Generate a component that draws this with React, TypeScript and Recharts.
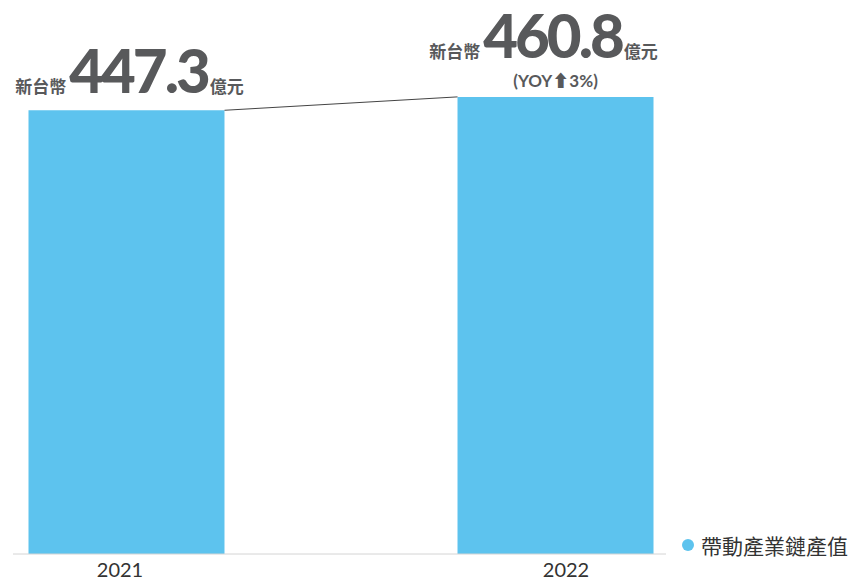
import { BarChart, Bar, XAxis, YAxis, LabelList, Legend, Rectangle } from "recharts"

const years = ["2021", "2022"]
const values = [447.3, 460.8]
const yoyNotes = ["", "(YOY⬆3%)"]
const seriesName = "帶動產業鏈產值"
const unitPrefix = "新台幣"
const unitSuffix = "億元"

const data = years.map((year, i) => ({ pos: i, year, value: values[i], yoy: yoyNotes[i] }))

const BAR_COLOR = "#5DC3EE"
const TEXT_GRAY = "#58595B"
const tickDx = [-6, 11]
const labelDx = [3, -12]

// top-right corners of already drawn bars, so the next bar can draw the connector
const barTops: { right: number; top: number }[] = []

function BarShape(props: any) {
  const { x, y, width, height, index, fill } = props
  barTops[index] = { right: x + width, top: y }
  const prev = index > 0 ? barTops[index - 1] : null
  return (
    <g>
      <Rectangle x={x} y={y} width={width} height={height} fill={fill} />
      {prev && <line x1={prev.right} y1={prev.top} x2={x} y2={y} stroke="#444" strokeWidth={1} />}
    </g>
  )
}

function ValueLabel(props: any) {
  const { x, y, width, value, index } = props
  const cx = x + width / 2 + labelDx[index]
  const note = yoyNotes[index]
  const baseline = note ? y - 39 : y - 17
  return (
    <g fontFamily="Lato, 'Noto Sans CJK TC', sans-serif" fill={TEXT_GRAY}>
      <text x={cx} y={baseline} textAnchor="middle">
        <tspan fontSize={17} fontWeight={700}>{unitPrefix}</tspan>
        <tspan fontSize={60} fontWeight={900} letterSpacing={-3} dx={3}>{value}</tspan>
        <tspan fontSize={17} fontWeight={700} dx={2}>{unitSuffix}</tspan>
      </text>
      {note && (
        <text x={x + width / 2} y={y - 10} textAnchor="middle" fontSize={17} fontWeight={700}>
          {note}
        </text>
      )}
    </g>
  )
}

function YearTick(props: any) {
  const { x, y, payload, index } = props
  return (
    <text x={x + tickDx[index]} y={y + 1} dy="0.71em" textAnchor="middle" fontSize={20}
      fontFamily="Lato, sans-serif" fill="#333">
      {years[payload.value]}
    </text>
  )
}

function LegendContent() {
  return (
    <div style={{ display: "flex", alignItems: "center", fontFamily: "'Noto Sans CJK TC', sans-serif" }}>
      <span style={{ width: 12, height: 12, borderRadius: 6, background: BAR_COLOR, marginRight: 7 }} />
      <span style={{ fontSize: 21, color: "#333", lineHeight: "24px" }}>{seriesName}</span>
    </div>
  )
}

export default function App() {
  return (
    <div style={{ position: "absolute", left: 0, top: 0, width: 852, height: 582 }}>
      <BarChart width={852} height={582} data={data} margin={{ top: 58, right: 186, bottom: 0, left: 13 }}>
        <XAxis
          dataKey="pos"
          type="number"
          domain={[-0.2634, 1.2587]}
          ticks={[0, 1]}
          height={28}
          tickLine={false}
          axisLine={{ stroke: "#d4d4d4" }}
          tick={<YearTick />}
          allowDataOverflow
        />
        <YAxis hide domain={[0, 500]} />
        <Legend
          layout="horizontal"
          align="center"
          verticalAlign="middle"
          content={<LegendContent />}
          wrapperStyle={{ left: 682, top: 533, width: 170, height: 24 }}
        />
        <Bar dataKey="value" name={seriesName} fill={BAR_COLOR} barSize={196} shape={<BarShape />} isAnimationActive={false}>
          <LabelList dataKey="value" content={<ValueLabel />} />
        </Bar>
      </BarChart>
    </div>
  )
}
